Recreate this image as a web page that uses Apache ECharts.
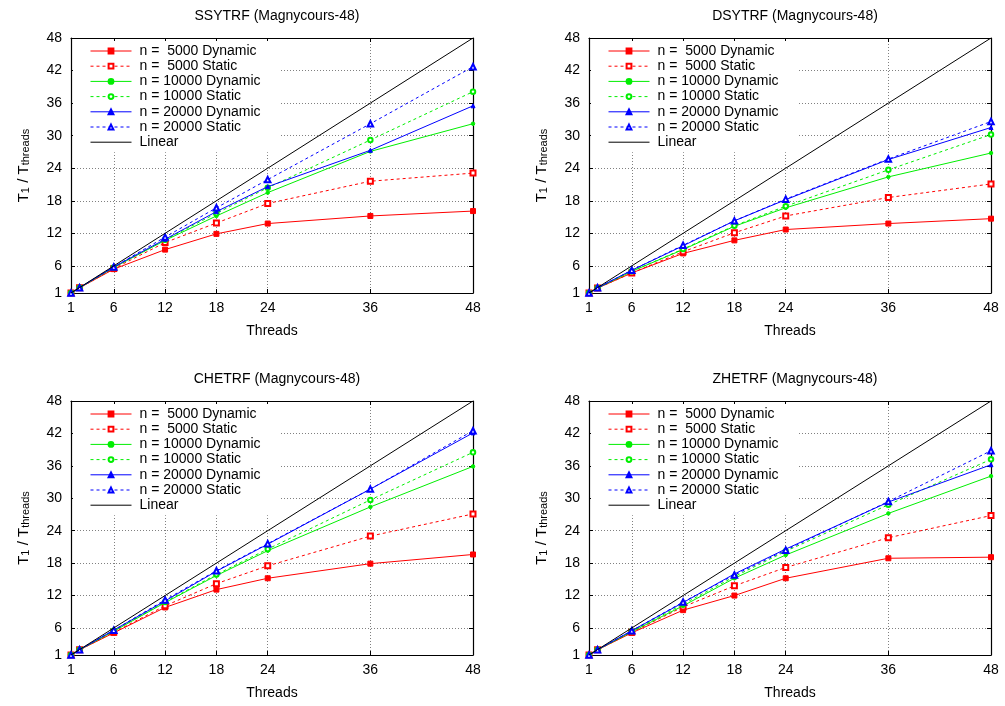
<!DOCTYPE html>
<html><head><meta charset="utf-8">
<script src="https://cdn.jsdelivr.net/npm/echarts@6/dist/echarts.min.js"></script>
<style>html,body{margin:0;padding:0;background:#fff}#c{width:1005px;height:706px}</style>
</head><body><div id="c"></div><script>
// ---------- data ----------
const threads = [1, 2, 6, 12, 18, 24, 36, 48];
const xTicks = [1, 6, 12, 18, 24, 36, 48];
const yTicks = [1, 6, 12, 18, 24, 30, 36, 42, 48];
const seriesNames = ['n =  5000 Dynamic', 'n =  5000 Static', 'n = 10000 Dynamic', 'n = 10000 Static', 'n = 20000 Dynamic', 'n = 20000 Static', 'Linear'];
const panelTitles = ['SSYTRF (Magnycours-48)', 'DSYTRF (Magnycours-48)', 'CHETRF (Magnycours-48)', 'ZHETRF (Magnycours-48)'];
const linear = [1, 2, 6, 12, 18, 24, 36, 48];

const ssytrf_5000_dyn  = [1, 1.95, 5.4, 9.0, 11.9, 13.8, 15.2, 16.1];
const ssytrf_5000_sta  = [1, 1.95, 5.5, 10.3, 13.9, 17.5, 21.6, 23.1];
const ssytrf_10000_dyn = [1, 1.97, 5.7, 10.7, 15.2, 19.5, 27.1, 32.2];
const ssytrf_10000_sta = [1, 1.97, 5.7, 10.8, 15.7, 20.4, 29.2, 38.1];
const ssytrf_20000_dyn = [1, 1.98, 5.8, 10.9, 16.0, 20.6, 27.3, 35.5];
const ssytrf_20000_sta = [1, 1.98, 5.8, 11.3, 16.7, 21.9, 32.2, 42.7];

const dsytrf_5000_dyn  = [1, 1.9, 4.7, 8.3, 10.7, 12.7, 13.8, 14.7];
const dsytrf_5000_sta  = [1, 1.9, 4.7, 8.6, 12.1, 15.2, 18.6, 21.1];
const dsytrf_10000_dyn = [1, 1.92, 5.0, 9.0, 13.3, 16.7, 22.4, 26.8];
const dsytrf_10000_sta = [1, 1.92, 5.0, 9.1, 13.4, 17.0, 23.7, 30.2];
const dsytrf_20000_dyn = [1, 1.95, 5.2, 9.7, 14.3, 18.2, 25.6, 31.5];
const dsytrf_20000_sta = [1, 1.95, 5.2, 9.8, 14.3, 18.3, 25.7, 32.6];

const chetrf_5000_dyn  = [1, 1.95, 5.1, 9.8, 13.1, 15.2, 17.9, 19.6];
const chetrf_5000_sta  = [1, 1.95, 5.2, 10.1, 14.2, 17.5, 23.0, 27.1];
const chetrf_10000_dyn = [1, 1.97, 5.4, 10.7, 15.7, 20.3, 28.4, 35.9];
const chetrf_10000_sta = [1, 1.97, 5.5, 10.8, 15.9, 20.6, 29.7, 38.5];
const chetrf_20000_dyn = [1, 1.98, 5.6, 11.0, 16.5, 21.5, 31.7, 42.1];
const chetrf_20000_sta = [1, 1.98, 5.6, 11.2, 16.6, 21.6, 31.7, 42.5];

const zhetrf_5000_dyn  = [1, 1.95, 5.1, 9.3, 12.0, 15.2, 18.9, 19.1];
const zhetrf_5000_sta  = [1, 1.95, 5.2, 9.9, 13.8, 17.2, 22.7, 26.8];
const zhetrf_10000_dyn = [1, 1.97, 5.3, 10.1, 15.2, 19.5, 27.2, 34.1];
const zhetrf_10000_sta = [1, 1.97, 5.4, 10.4, 15.5, 20.2, 28.8, 37.2];
const zhetrf_20000_dyn = [1, 1.98, 5.5, 10.7, 16.0, 20.6, 29.3, 36.2];
const zhetrf_20000_sta = [1, 1.98, 5.5, 10.8, 15.8, 20.4, 29.4, 38.8];

const panelData = [
  [ssytrf_5000_dyn, ssytrf_5000_sta, ssytrf_10000_dyn, ssytrf_10000_sta, ssytrf_20000_dyn, ssytrf_20000_sta, linear],
  [dsytrf_5000_dyn, dsytrf_5000_sta, dsytrf_10000_dyn, dsytrf_10000_sta, dsytrf_20000_dyn, dsytrf_20000_sta, linear],
  [chetrf_5000_dyn, chetrf_5000_sta, chetrf_10000_dyn, chetrf_10000_sta, chetrf_20000_dyn, chetrf_20000_sta, linear],
  [zhetrf_5000_dyn, zhetrf_5000_sta, zhetrf_10000_dyn, zhetrf_10000_sta, zhetrf_20000_dyn, zhetrf_20000_sta, linear]
];

// ---------- styles ----------
const FONT = 'Liberation Sans';
const styles = [
  {color: '#ff0000', dash: 'solid', symbol: 'rect', size: 5},
  {color: '#ff0000', dash: [3, 3], symbol: 'emptyRect', size: 5},
  {color: '#00ee00', dash: 'solid', symbol: 'circle', size: 3.5},
  {color: '#00ee00', dash: [3, 3], symbol: 'emptyCircle', size: 4.5},
  {color: '#0000ff', dash: 'solid', symbol: 'triangle', size: 4},
  {color: '#0000ff', dash: [3, 3], symbol: 'emptyTriangle', size: 5.5},
  {color: '#000000', dash: 'solid', symbol: 'none', size: 0}
];
const layout = [
  {left: 71, top: 38, width: 402, height: 255},
  {left: 589, top: 38, width: 402, height: 255},
  {left: 71, top: 401, width: 402, height: 254},
  {left: 589, top: 401, width: 402, height: 254}
];

const legendItems = seriesNames.map((n, k) => k === 6 ? {name: n, itemStyle: {opacity: 0}} : {name: n});

const grids = [], xAxes = [], yAxes = [], series = [], titles = [], legends = [];
const gridLineStyle = {color: '#808080', width: 1, type: [1, 2]};
layout.forEach((g, i) => {
  grids.push({left: g.left, top: g.top, width: g.width, height: g.height, show: false});
  titles.push({text: panelTitles[i], left: g.left + g.width / 2, top: g.top - 34, textAlign: 'center',
    textStyle: {fontFamily: FONT, fontSize: 14, fontWeight: 'normal', color: '#000'}});
  legends.push({data: legendItems, orient: 'vertical', left: g.left + 2, top: g.top + 3,
    backgroundColor: '#fff', padding: [3, 20, 3, 17], itemWidth: 41, itemHeight: 6, itemGap: 1.2,
    selectedMode: false, lineStyle: {width: 1},
    textStyle: {fontFamily: FONT, fontSize: 14, color: '#000', lineHeight: 14, padding: [0, 0, 0, 3]}});
  const axisLine = {show: true, onZero: false, lineStyle: {color: '#000', width: 1.2}};
  xAxes.push({gridIndex: i, type: 'value', min: 1, max: 48, position: 'bottom',
    axisLine, axisTick: {show: true, inside: true, length: 4, customValues: xTicks, lineStyle: {color: '#000'}},
    axisLabel: {customValues: xTicks, fontFamily: FONT, fontSize: 14, color: '#000', margin: 8},
    splitLine: {show: true, lineStyle: gridLineStyle},
    name: 'Threads', nameLocation: 'middle', nameGap: 31,
    nameTextStyle: {fontFamily: FONT, fontSize: 14, color: '#000'}});
  xAxes.push({gridIndex: i, type: 'value', min: 1, max: 48, position: 'top',
    axisLine, axisTick: {show: true, inside: true, length: 4, customValues: xTicks, lineStyle: {color: '#000'}},
    axisLabel: {show: false}, splitLine: {show: false}});
  yAxes.push({gridIndex: i, type: 'value', min: 1, max: 48, position: 'left',
    axisLine, axisTick: {show: true, inside: true, length: 4, customValues: yTicks, lineStyle: {color: '#000'}},
    axisLabel: {customValues: yTicks, fontFamily: FONT, fontSize: 14, color: '#000', margin: 9},
    splitLine: {show: true, lineStyle: gridLineStyle},
    name: '{a|T}{s|1}{a| / T}{s|threads}', nameLocation: 'middle', nameRotate: 90, nameGap: 40,
    nameTextStyle: {fontFamily: FONT, color: '#000',
      rich: {a: {fontFamily: FONT, fontSize: 15, color: '#000', lineHeight: 20, verticalAlign: 'bottom'},
             s: {fontFamily: FONT, fontSize: 11, color: '#000', lineHeight: 9, verticalAlign: 'bottom'}}}});
  yAxes.push({gridIndex: i, type: 'value', min: 1, max: 48, position: 'right',
    axisLine, axisTick: {show: true, inside: true, length: 4, customValues: yTicks, lineStyle: {color: '#000'}},
    axisLabel: {show: false}, splitLine: {show: false}});
  panelData[i].forEach((vals, k) => {
    const st = styles[k];
    series.push({
      name: seriesNames[k], type: 'line', xAxisIndex: i * 2, yAxisIndex: i * 2,
      data: threads.map((t, j) => [t, vals[j]]),
      symbol: st.symbol, symbolSize: st.size, showSymbol: st.symbol !== 'none',
      lineStyle: {color: st.color, width: 1, type: st.dash},
      itemStyle: {color: st.color, borderColor: st.color, borderWidth: 1},
      emphasis: {disabled: true}, animation: false, z: 3 + k
    });
  });
});

const chart = echarts.init(document.getElementById('c'), null, {renderer: 'canvas'});
chart.setOption({
  backgroundColor: '#fff', animation: false,
  title: titles, legend: legends, grid: grids, xAxis: xAxes, yAxis: yAxes, series
});
</script></body></html>
